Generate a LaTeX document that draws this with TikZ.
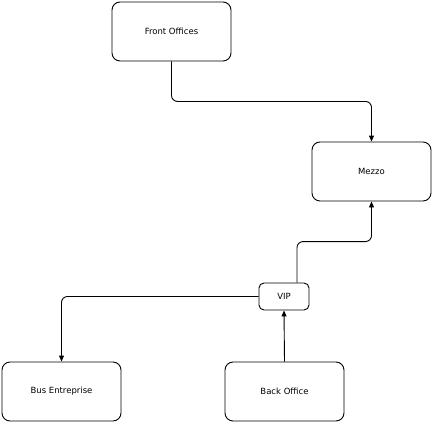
\documentclass[tikz,border=0pt]{standalone}
\usepackage{fontspec}
\setmainfont{DejaVu Sans}
\usetikzlibrary{arrows.meta,positioning}

\begin{document}
\begin{tikzpicture}[x=1pt, y=-1pt,
    box/.style={draw, line width=0.9pt, rounded corners=8pt, minimum width=119pt, minimum height=59pt, font=\fontsize{8.5}{10}\selectfont, inner sep=0pt},
    smallbox/.style={box, minimum width=50pt, minimum height=27pt, rounded corners=5pt},
    link/.style={draw, line width=0.9pt, rounded corners=6pt, -{Triangle[length=6pt, width=5pt]}}]
          \useasboundingbox (0,0) rectangle (433,423);
          \node[box] (front) at (171.5,31.5) {Front Offices};
          \node[box] (mezzo) at (371.5,171.5) {Mezzo};
          \node[smallbox] (vip) at (284,296.5) {VIP};
          \node[box] (bus) at (61.5,391.5) {Bus Entreprise};
          \node[box] (back) at (284.5,391.5) {Back Office};
          \path[link] (front.south) -- ++(0,40) -| (mezzo.north);
          \path[link] ([xshift=13pt]vip.north) -- ++(0,-41) -| (mezzo.south);
          \path[link] (vip.west) -| (bus.north);
          \path[link] (back.north) -- (vip.south);
        \end{tikzpicture}
\end{document}
